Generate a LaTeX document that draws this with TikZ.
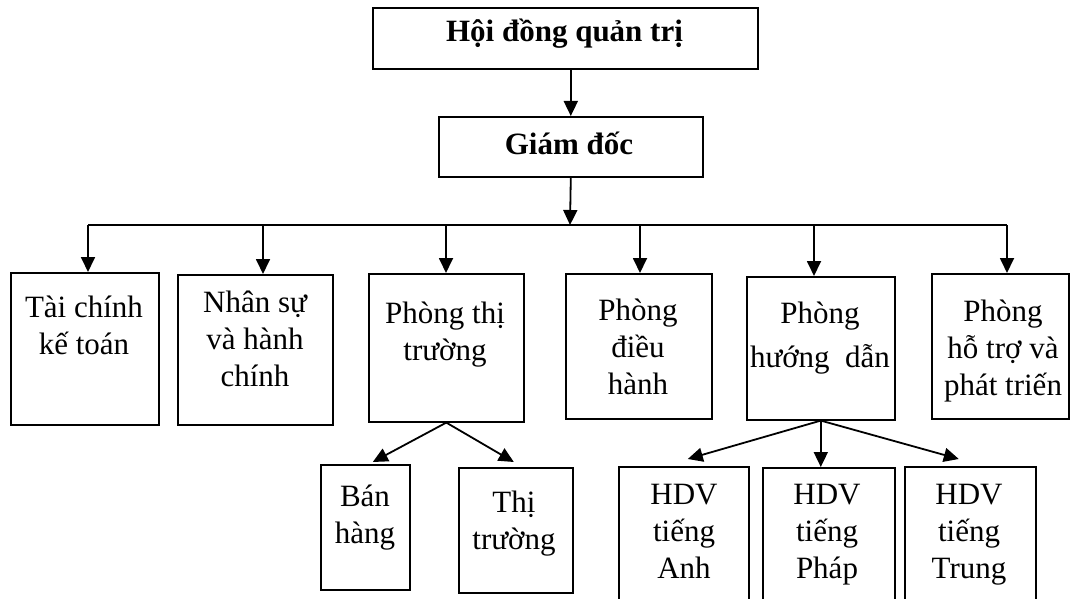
\documentclass[tikz,border=0pt]{standalone}
\usepackage{fontspec}
\setmainfont{Liberation Serif}
\usetikzlibrary{arrows.meta}
\begin{document}
\begin{tikzpicture}[x=1pt,y=-1pt,
  box/.style={draw,line width=1.6pt,inner sep=0pt,anchor=north west},
  lbl/.style={anchor=base,align=center,inner sep=0pt,font=\fontsize{31}{37}\selectfont},
  head/.style={anchor=base,inner sep=0pt,font=\bfseries\fontsize{31}{36}\selectfont},
  link/.style={line width=1.8pt},
  arr/.style={link,-{Triangle[width=14pt,length=15pt]}}]
\useasboundingbox (0,0) rectangle (1071,599);
\fill[white] (0,0) rectangle (1071,599);
\clip (0,0) rectangle (1071,599);

% management
\node[box,minimum width=385pt,minimum height=61pt] (hdqt) at (372,7) {};
\node[head] (hdqtt) at (564.5,42) {Hội đồng quản trị};
\node[box,minimum width=264pt,minimum height=60pt] (gd) at (438,116) {};
\node[head] (gdt) at (569,154) {Giám đốc};

% departments (labels placed by the baseline of their last line)
\node[box,minimum width=148pt,minimum height=152pt] (tc)  at (10,272) {};
\node[box,minimum width=155pt,minimum height=150pt] (ns)  at (177,274) {};
\node[box,minimum width=155pt,minimum height=148pt] (ptt) at (368,273) {};
\node[box,minimum width=146pt,minimum height=145pt] (pdh) at (565,273) {};
\node[box,minimum width=148pt,minimum height=143pt] (phd) at (746,276) {};
\node[box,minimum width=137pt,minimum height=145pt] (pht) at (931,273) {};

\node[lbl] (tct)  at (84,354)   {Tài chính\\kế toán};
\node[lbl] (nst)  at (255,386)  {Nhân sự\\và hành\\chính};
\node[lbl] (pttt) at (445,360)  {Phòng thị\\trường};
\node[lbl] (pdht) at (638,394)  {Phòng\\điều\\hành};
\node[lbl] (phdt) at (820,367)  {Phòng\\[7pt]hướng\ \ dẫn};
\node[lbl] (phtt) at (1003,395) {Phòng\\hỗ trợ và\\phát triến};

% sub-units
\node[box,minimum width=89pt,minimum height=125pt]  (bh) at (320,464) {};
\node[box,minimum width=114pt,minimum height=125pt] (tt) at (458,467) {};
\node[box,minimum width=130pt,minimum height=150pt] (ha) at (618,466) {};
\node[box,minimum width=132pt,minimum height=150pt] (hp) at (762,467) {};
\node[box,minimum width=131pt,minimum height=150pt] (ht) at (904,466) {};

\node[lbl] (bht) at (365,543) {Bán\\hàng};
\node[lbl] (ttt) at (514,549) {Thị\\trường};
\node[lbl] (hat) at (684,578) {HDV\\tiếng\\Anh};
\node[lbl] (hpt) at (827,578) {HDV\\tiếng\\Pháp};
\node[lbl] (htt) at (969,578) {HDV\\tiếng\\Trung};

% connectors
\coordinate (bus) at (570,225);
\coordinate (d1) at (88,225);
\coordinate (d2) at (263,225);
\coordinate (d3) at (446,225);
\coordinate (d4) at (640,225);
\coordinate (d5) at (814,225);
\coordinate (d6) at (1007,225);

\draw[arr] (hdqt.south -| gd.north) -- (gd.north);
\draw[arr] (gd.south) -- (bus);
\draw[link] (d1) -- (d6);
\draw[arr] (d1) -- (d1 |- tc.north);
\draw[arr] (d2) -- (d2 |- ns.north);
\draw[arr] (d3) -- (d3 |- ptt.north);
\draw[arr] (d4) -- (d4 |- pdh.north);
\draw[arr] (d5) -- (d5 |- phd.north);
\draw[arr] (d6) -- (d6 |- pht.north);

\draw[arr] (ptt.south) -- ([xshift=7.5pt,yshift=2pt]bh.north);
\draw[arr] (ptt.south) -- ([xshift=-2pt,yshift=5pt]tt.north);
\draw[arr] (phd.south) -- ([xshift=4pt,yshift=7pt]ha.north);
\draw[arr] (phd.south) -- (phd.south |- hp.north);
\draw[arr] (phd.south) -- ([xshift=-11.5pt,yshift=7pt]ht.north);
\end{tikzpicture}
\end{document}
